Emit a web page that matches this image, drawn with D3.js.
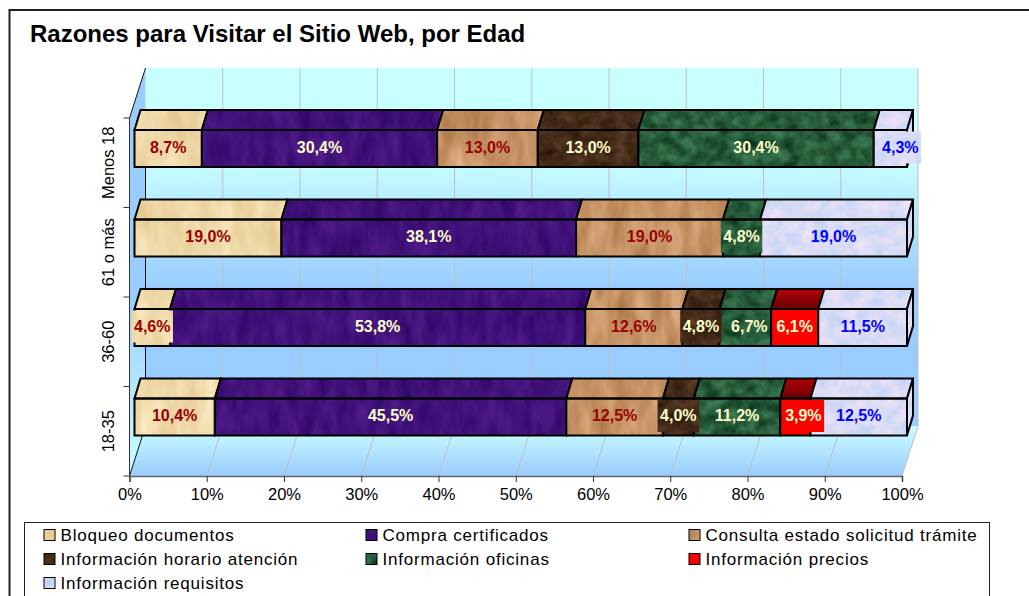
<!DOCTYPE HTML>
<html lang="es">
<head>
    <meta http-equiv="Content-Type" content="text/html; charset=utf-8">
    <title>Razones para Visitar el Sitio Web</title>
    <script src="https://cdn.jsdelivr.net/npm/d3@7/dist/d3.min.js"></script>
    <style type="text/css">
        html,body{margin:0;padding:0;background:#fff;overflow:hidden}
        svg{display:block;font-family:"Liberation Sans",Arial,sans-serif}
    </style>
</head>
<body>
<div id="svgWrap"></div>
<script type="text/javascript">
var chartTitle="Razones para Visitar el Sitio Web, por Edad";
var ages=["18-35","36-60","61 o más","Menos 18"];
var reasons=["Bloqueo documentos","Compra certificados","Consulta estado solicitud trámite",
    "Información horario atención","Información oficinas","Información precios","Información requisitos"];
// one list per reason, same order as ages
var bloqueo=[10.4,4.6,19.0,8.7];
var compra=[45.5,53.8,38.1,30.4];
var consulta=[12.5,12.6,19.0,13.0];
var horario=[4.0,4.8,0,13.0];
var oficinas=[11.2,6.7,4.8,30.4];
var precios=[3.9,6.1,0,0];
var requisitos=[12.5,11.5,19.0,4.3];
var seriesValues=[bloqueo,compra,consulta,horario,oficinas,precios,requisitos];
var xTicks=[0,.1,.2,.3,.4,.5,.6,.7,.8,.9,1];

// texture colour range (dark,light) and label colour for each reason
var texLo=["#e6cb95","#33096c","#b27c4c","#2e1a0c","#113c22","#ff0000","#c6d6f6"];
var texHi=["#f8e6bc","#4f1a88","#d8a87c","#583a24","#3c7c52","#ff0000","#ece2f6"];
var labelColors=["#990000","#ffffcc","#990000","#ffffcc","#ffffcc","#ffffcc","#0000ff"];
var legendCols=[44,366,689];

var frontLeft=129.5, frontRight=902, frontTop=118, frontBottom=476;
var wallDx=16, wallDy=-50;   // back wall offset
var barDx=5, barDepthX=6, barDepthY=-20, barH=37;
// labels the original moved sideways so they fit
var labelShift={"Menos 18|Información requisitos":10,"18-35|Información precios":8,"36-60|Información oficinas":4};

var xScale=d3.scaleLinear().domain([0,1]).range([frontLeft,frontRight]);
var yScale=d3.scaleBand().domain(ages).range([frontBottom,frontTop]);

var table=ages.map(function(a,i){
    var row={age:a};
    reasons.forEach(function(r,j){row[r]=seriesValues[j][i]});
    return row;
});
var stacked=d3.stack().keys(reasons).offset(d3.stackOffsetExpand)(table);

var svg=d3.select("#svgWrap").append("svg").attr("width",1029).attr("height",596);
var defs=svg.append("defs");

function addGrad(id,x2,y2,stops) {
    var g=defs.append("linearGradient").attr("id",id).attr("x1",0).attr("y1",0).attr("x2",x2).attr("y2",y2);
    stops.forEach(function(s){g.append("stop").attr("offset",s[0]).attr("stop-color",s[1])});
}
addGrad("wallGrad",0,1,[[0,"#c8ffff"],[.25,"#c8ffff"],[.62,"#99ccff"],[1,"#99ccff"]]);
addGrad("floorGrad",0,1,[[0,"#ccffff"],[1,"#99ccff"]]);
addGrad("redTop",0,1,[[0,"#b00008"],[1,"#6a0004"]]);
addGrad("sideGrad",0,1,[[0,"#99ccff"],[.55,"#99ccff"],[1,"#ccffff"]]);

// noise filters stand in for the Office textures
function addTexture(i) {
    var lo=d3.rgb(texLo[i]), hi=d3.rgb(texHi[i]);
    var f=defs.append("filter").attr("id","tex"+i)
        .attr("x","0").attr("y","0").attr("width","100%").attr("height","100%")
        .attr("color-interpolation-filters","sRGB");
    f.append("feTurbulence").attr("type","fractalNoise")
        .attr("baseFrequency",i==0||i==2?"0.06 0.02":(i==1?"0.08 0.03":"0.07 0.08"))
        .attr("numOctaves",3).attr("seed",i+3).attr("result","n");
    function row(l,h) {
        var k=(h-l)/255*1.8, b=l/255-(h-l)/255*0.4;
        return k+" 0 0 0 "+b.toFixed(3);
    }
    f.append("feColorMatrix").attr("in","n").attr("type","matrix")
        .attr("values",row(lo.r,hi.r)+" "+row(lo.g,hi.g)+" "+row(lo.b,hi.b)+" 0 0 0 0 1")
        .attr("result","c");
    f.append("feComposite").attr("in","c").attr("in2","SourceAlpha").attr("operator","in");
}
reasons.forEach(function(r,i){addTexture(i)});

function poly(pts) {return pts.map(function(p){return p.join(",")}).join(" ")}

// outer frame, runs off the right and bottom of the picture
svg.append("rect").attr("x",9.5).attr("y",10).attr("width",1040).attr("height",620)
    .attr("fill","#fff").attr("stroke","#222").attr("stroke-width",2);
svg.append("text").attr("x",30).attr("y",42).attr("font-size",24).attr("font-weight","bold")
    .attr("fill","#000").text(chartTitle);

// walls and floor
var plot=svg.append("g");
plot.append("rect").attr("x",frontLeft+wallDx).attr("y",frontTop+wallDy)
    .attr("width",frontRight-frontLeft).attr("height",frontBottom-frontTop)
    .attr("fill","url(#wallGrad)");
plot.append("polygon").attr("fill","url(#sideGrad)")
    .attr("points",poly([[frontLeft,frontTop],[frontLeft+wallDx,frontTop+wallDy],
        [frontLeft+wallDx,frontBottom+wallDy],[frontLeft,frontBottom]]));
plot.append("line").attr("x1",frontLeft).attr("y1",frontTop).attr("x2",frontLeft+wallDx).attr("y2",frontTop+wallDy)
    .attr("stroke","#111");
plot.append("line").attr("x1",frontLeft+wallDx).attr("y1",frontTop).attr("x2",frontLeft+wallDx).attr("y2",frontBottom+wallDy)
    .attr("stroke","#111");
plot.append("polygon").attr("fill","url(#floorGrad)")
    .attr("points",poly([[frontLeft+wallDx,frontBottom+wallDy],[frontRight+wallDx,frontBottom+wallDy],
        [frontRight,frontBottom],[frontLeft,frontBottom]]));
plot.append("line").attr("x1",frontLeft).attr("y1",frontBottom).attr("x2",frontLeft+wallDx).attr("y2",frontBottom+wallDy)
    .attr("stroke","#111");
xTicks.forEach(function(t){
    if(t==0) return;
    var x=xScale(t);
    plot.append("polyline").attr("fill","none").attr("stroke","#c0c0c0").attr("stroke-width",1)
        .attr("points",poly([[x,frontBottom],[x+wallDx,frontBottom+wallDy],[x+wallDx,frontTop+wallDy]]));
});

// axes
var xAxis=d3.axisBottom(xScale).tickValues(xTicks).tickFormat(d3.format(".0%")).tickSize(6).tickPadding(6);
var gx=svg.append("g").attr("transform","translate(0,"+frontBottom+")").call(xAxis);
gx.selectAll("text").attr("font-size",16.5).attr("fill","#000").attr("font-family","inherit");
gx.selectAll(".tick line").attr("stroke","#333");
gx.select(".domain").attr("stroke","#666").attr("stroke-width",1.5);
var gy=svg.append("g").attr("transform","translate("+frontLeft+",0)");
gy.append("line").attr("y1",frontTop).attr("y2",frontBottom).attr("stroke","#333");
ages.concat(["end"]).forEach(function(a,i){
    var y=frontBottom-i*yScale.step();
    gy.append("line").attr("x1",-6).attr("x2",0).attr("y1",y).attr("y2",y).attr("stroke","#333");
});
ages.forEach(function(a){
    var y=yScale(a)+yScale.bandwidth()/2;
    gy.append("text").attr("transform","translate(-16,"+y+") rotate(-90)")
        .attr("text-anchor","middle").attr("font-size",16.5).attr("fill","#000").text(a);
});

// bars
function barTop(a) {return yScale(a)+12}
function barX(v) {return xScale(v)+barDx}
var bars=svg.append("g");
var labels=svg.append("g");
stacked.forEach(function(s,i){
    s.forEach(function(d){
        if(d[1]-d[0]<=0) return;
        var a=d.data.age, x0=barX(d[0]), x1=barX(d[1]), y0=barTop(a), y1=y0+barH;
        var texFill="#888";
        // front
        bars.append("rect").attr("x",x0).attr("y",y0).attr("width",x1-x0).attr("height",barH)
            .attr("fill",texFill).attr("filter","url(#tex"+i+")");
        // top
        var topPts=poly([[x0,y0],[x0+barDepthX,y0+barDepthY],[x1+barDepthX,y0+barDepthY],[x1,y0]]);
        if(i==5) {
            bars.append("polygon").attr("points",topPts).attr("fill","url(#redTop)");
        } else {
            bars.append("polygon").attr("points",topPts).attr("fill",texFill).attr("filter","url(#tex"+i+")");
        }
        bars.append("polygon").attr("points",topPts).attr("fill","none").attr("stroke","#000").attr("stroke-width",2);
        bars.append("rect").attr("x",x0).attr("y",y0).attr("width",x1-x0).attr("height",barH)
            .attr("fill","none").attr("stroke","#000").attr("stroke-width",2);
        // end cap
        if(d[1]>=0.9999) {
            var sidePts=poly([[x1,y0],[x1+barDepthX,y0+barDepthY],[x1+barDepthX,y1+barDepthY],[x1,y1]]);
            bars.append("polygon").attr("points",sidePts).attr("fill",texFill).attr("filter","url(#tex"+i+")");
            bars.append("polygon").attr("points",sidePts).attr("fill","none").attr("stroke","#000").attr("stroke-width",2);
        }
        // data label with its own background
        var val=seriesValues[i][ages.indexOf(a)];
        var cx=(x0+x1)/2+(labelShift[a+"|"+reasons[i]]||0), cy=(y0+y1)/2;
        var bg=labels.append("rect").attr("fill","#888").attr("filter","url(#tex"+i+")");
        var t=labels.append("text").attr("x",cx).attr("y",cy+4).attr("text-anchor","middle")
            .attr("font-size",16).attr("font-weight","bold").attr("fill",labelColors[i])
            .text(val.toFixed(1).replace(".",",")+"%");
        var w=t.node().getComputedTextLength()+5;
        bg.attr("x",cx-w/2).attr("y",cy-17).attr("width",w).attr("height",32);
    });
});

// legend
var legend=svg.append("g");
legend.append("rect").attr("x",24.5).attr("y",522.5).attr("width",965).attr("height",90)
    .attr("fill","#fff").attr("stroke","#222").attr("stroke-width",1);
reasons.forEach(function(r,i){
    var col=i%3, line=Math.floor(i/3);
    var x=legendCols[col], y=535+line*24;
    legend.append("rect").attr("x",x).attr("y",y-5.5).attr("width",11).attr("height",11)
        .attr("fill","#888").attr("filter","url(#tex"+i+")");
    legend.append("rect").attr("x",x).attr("y",y-5.5).attr("width",11).attr("height",11)
        .attr("fill","none").attr("stroke","#000").attr("stroke-width",1);
    legend.append("text").attr("x",x+16.5).attr("y",y+6).attr("font-size",17)
        .attr("letter-spacing","0.8px").attr("fill","#000").text(r);
});
</script>
</body>
</html>
